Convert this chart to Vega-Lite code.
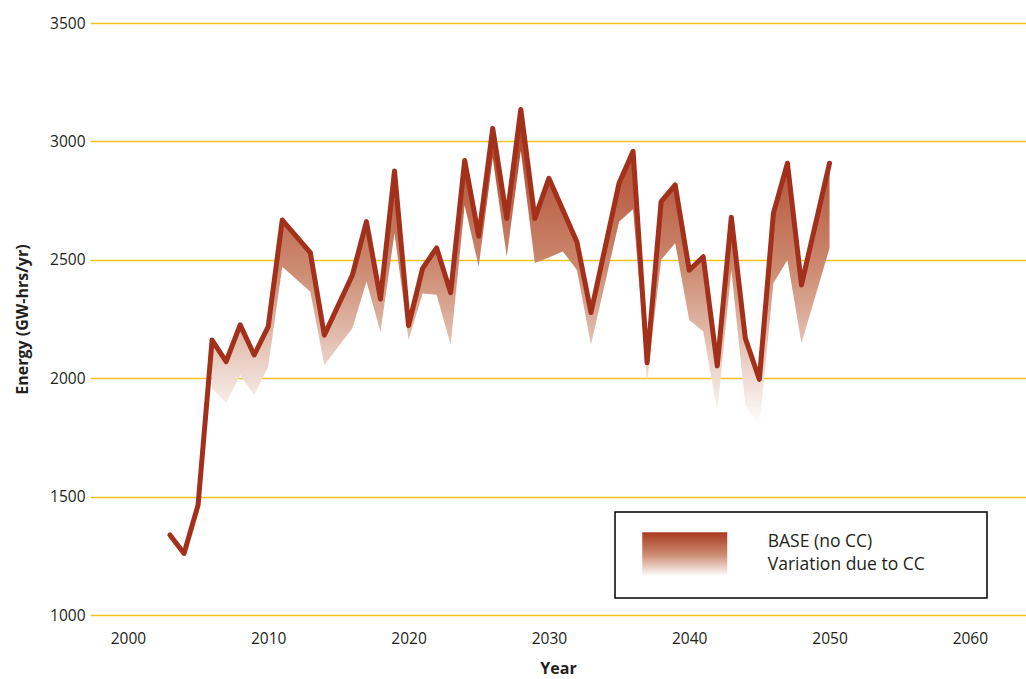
{
  "$schema": "https://vega.github.io/schema/vega-lite/v6.json",
  "width": 936,
  "height": 592,
  "autosize": {"type": "none"},
  "padding": {"left": 90, "top": 23, "right": 0, "bottom": 64},
  "background": "white",
  "config": {
    "view": {"stroke": null},
    "font": "Open Sans",
    "legend": {"strokeWidth": 1.5}
  },
  "data": {
    "values": [
      {"year": 2003, "base": 1338},
      {"year": 2004, "base": 1260},
      {"year": 2005, "base": 1464},
      {"year": 2006, "base": 2161, "lower": 1957},
      {"year": 2007, "base": 2070, "lower": 1895},
      {"year": 2008, "base": 2225, "lower": 2013},
      {"year": 2009, "base": 2098, "lower": 1929},
      {"year": 2010, "base": 2218, "lower": 2049},
      {"year": 2011, "base": 2668, "lower": 2471},
      {"year": 2013, "base": 2530, "lower": 2365},
      {"year": 2014, "base": 2182, "lower": 2056},
      {"year": 2016, "base": 2436, "lower": 2211},
      {"year": 2017, "base": 2661, "lower": 2408},
      {"year": 2018, "base": 2334, "lower": 2196},
      {"year": 2019, "base": 2875, "lower": 2612},
      {"year": 2020, "base": 2222, "lower": 2161},
      {"year": 2021, "base": 2464, "lower": 2358},
      {"year": 2022, "base": 2550, "lower": 2352},
      {"year": 2023, "base": 2361, "lower": 2141},
      {"year": 2024, "base": 2919, "lower": 2730},
      {"year": 2025, "base": 2600, "lower": 2471},
      {"year": 2026, "base": 3055, "lower": 2930},
      {"year": 2027, "base": 2675, "lower": 2513},
      {"year": 2028, "base": 3135, "lower": 2960},
      {"year": 2029, "base": 2675, "lower": 2486},
      {"year": 2030, "base": 2844, "lower": 2510},
      {"year": 2031, "base": 2710, "lower": 2535},
      {"year": 2032, "base": 2575, "lower": 2457},
      {"year": 2033, "base": 2277, "lower": 2141},
      {"year": 2035, "base": 2823, "lower": 2661},
      {"year": 2036, "base": 2958, "lower": 2713},
      {"year": 2037, "base": 2065, "lower": 1986},
      {"year": 2038, "base": 2746, "lower": 2500},
      {"year": 2039, "base": 2816, "lower": 2570},
      {"year": 2040, "base": 2456, "lower": 2246},
      {"year": 2041, "base": 2513, "lower": 2197},
      {"year": 2042, "base": 2052, "lower": 1859},
      {"year": 2043, "base": 2680, "lower": 2457},
      {"year": 2044, "base": 2168, "lower": 1887},
      {"year": 2045, "base": 1995, "lower": 1795},
      {"year": 2046, "base": 2696, "lower": 2401},
      {"year": 2047, "base": 2908, "lower": 2499},
      {"year": 2048, "base": 2394, "lower": 2148},
      {"year": 2050, "base": 2908, "lower": 2549}
    ]
  },
  "encoding": {
    "x": {
      "field": "year",
      "type": "quantitative",
      "scale": {"domain": [1997.3, 2064], "nice": false, "zero": false},
      "axis": {
        "title": "Year",
        "values": [2000, 2010, 2020, 2030, 2040, 2050, 2060],
        "format": "d",
        "grid": false,
        "domain": false,
        "ticks": false,
        "labelFlush": false,
        "labelPadding": 16,
        "labelFontSize": 15.5,
        "labelColor": "#231f20",
        "titleFontSize": 16,
        "titleFontWeight": "bold",
        "titleColor": "#231f20",
        "titlePadding": 14
      }
    },
    "y": {
      "field": "base",
      "type": "quantitative",
      "scale": {"domain": [1000, 3500], "nice": false, "zero": false},
      "axis": {
        "title": "Energy (GW-hrs/yr)",
        "values": [1000, 1500, 2000, 2500, 3000, 3500],
        "format": "d",
        "grid": true,
        "gridColor": "#f0c21c",
        "gridWidth": 1.5,
        "domain": false,
        "ticks": false,
        "labelPadding": 5,
        "labelFontSize": 15.5,
        "labelColor": "#231f20",
        "titleFontSize": 16,
        "titleFontWeight": "bold",
        "titleColor": "#231f20",
        "titlePadding": 19
      }
    }
  },
  "layer": [
    {
      "transform": [{"filter": "isValid(datum.lower)"}],
      "mark": {
        "type": "area",
        "color": {
          "gradient": "linear",
          "x1": 0, "y1": 0, "x2": 0, "y2": 1,
          "stops": [
            {"offset": 0, "color": "#a9391f"},
            {"offset": 0.5, "color": "#cc8a70"},
            {"offset": 1, "color": "#ffffff"}
          ]
        }
      },
      "encoding": {
        "y2": {"field": "lower"},
        "opacity": {
          "datum": "BASE (no CC)",
          "type": "nominal",
          "scale": {"range": [1, 1]},
          "legend": {
            "title": ["BASE (no CC)", "Variation due to CC\u00a0\u00a0\u00a0\u00a0\u00a0\u00a0\u00a0\u00a0\u00a0\u200b"],
            "titleOrient": "right",
            "titleAnchor": "start",
            "titleBaseline": "top",
            "titleAlign": "left",
            "titleFont": "Open Sans",
            "titleFontSize": 17.5,
            "titleFontWeight": "normal",
            "titleColor": "#231f20",
            "titleLineHeight": 23.5,
            "titleLimit": 400,
            "titlePadding": 40,
            "orient": "none",
            "legendX": 525,
            "legendY": 489,
            "labelExpr": "''",
            "labelOffset": 0,
            "symbolType": "M-2,-1.0353H2V1.0353H-2Z",
            "symbolSize": 1806.25,
            "symbolOpacity": 1,
            "symbolStrokeWidth": 0,
            "symbolOffset": 27.5,
            "padding": 20.75,
            "strokeColor": "#000000"
          }
        }
      }
    },
    {
      "mark": {
        "type": "line",
        "color": "#a3301b",
        "strokeWidth": 5,
        "strokeJoin": "round",
        "strokeCap": "round"
      }
    }
  ]
}
